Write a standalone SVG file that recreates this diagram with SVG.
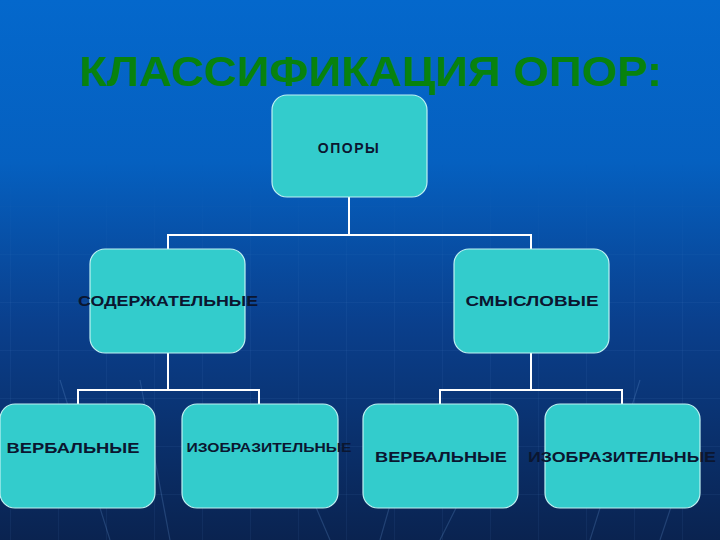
<svg xmlns="http://www.w3.org/2000/svg" width="720" height="540" viewBox="0 0 720 540">
<defs>
<linearGradient id="bg" x1="0" y1="0" x2="0" y2="1">
<stop offset="0" stop-color="#0468CC"/>
<stop offset="0.3" stop-color="#0560C0"/>
<stop offset="0.6" stop-color="#0a3f8c"/>
<stop offset="1" stop-color="#0a2350"/>
</linearGradient>
<pattern id="grid" width="48" height="48" patternUnits="userSpaceOnUse" x="10" y="14">
<path d="M0 0H48M0 0V48" stroke="#5a8ad0" stroke-opacity="0.18" stroke-width="1" fill="none"/>
</pattern>
<linearGradient id="fade" x1="0" y1="0" x2="0" y2="1">
<stop offset="0" stop-color="#fff" stop-opacity="0"/>
<stop offset="0.3" stop-color="#fff" stop-opacity="0"/>
<stop offset="0.55" stop-color="#fff" stop-opacity="1"/>
<stop offset="1" stop-color="#fff" stop-opacity="1"/>
</linearGradient>
<mask id="m"><rect width="720" height="540" fill="url(#fade)"/></mask>
</defs>
<style>
.node{fill:#33CCCC;stroke:#bff2f2;stroke-width:1.2}
.lbl{font-family:"Liberation Sans",Arial,sans-serif;font-weight:bold;fill:#0b1630;text-anchor:middle}
.con{stroke:#ffffff;stroke-width:2;fill:none}
</style>
<rect width="720" height="540" fill="url(#bg)"/>
<rect width="720" height="540" fill="url(#grid)" mask="url(#m)"/>
<g stroke="#6a9ad8" stroke-opacity="0.25" stroke-width="1.2" fill="none" mask="url(#m)">
<path d="M60 380 L110 540"/>
<path d="M140 380 L170 540"/>
<path d="M300 470 L330 540"/>
<path d="M400 470 L380 540"/>
<path d="M470 480 L440 540"/>
<path d="M640 380 L590 540"/>
<path d="M700 420 L660 540"/>
</g>
<text x="371" y="86" font-family="'Liberation Sans',Arial,sans-serif" font-weight="bold" font-size="43" fill="#08820e" text-anchor="middle" textLength="583" lengthAdjust="spacingAndGlyphs">КЛАССИФИКАЦИЯ ОПОР:</text>
<g id="connectors" class="con">
<path d="M349 197V235M168 249V235H531V249"/>
<path d="M168 353V390M78 404V390H259V404"/>
<path d="M531 353V390M440 404V390H622V404"/>
</g>
<g id="n-opory">
<rect class="node" x="272" y="95" width="155" height="102" rx="15"/>
<text class="lbl" x="349" y="153" font-size="14" letter-spacing="1.5">ОПОРЫ</text>
</g>
<g id="n-soderzh">
<rect class="node" x="90" y="249" width="155" height="104" rx="15"/>
<text class="lbl" x="168" y="306" font-size="14" textLength="180" lengthAdjust="spacingAndGlyphs">СОДЕРЖАТЕЛЬНЫЕ</text>
</g>
<g id="n-smysl">
<rect class="node" x="454" y="249" width="155" height="104" rx="15"/>
<text class="lbl" x="532" y="306" font-size="14" textLength="133" lengthAdjust="spacingAndGlyphs">СМЫСЛОВЫЕ</text>
</g>
<g id="n-verb1">
<rect class="node" x="0" y="404" width="155" height="104" rx="15"/>
<text class="lbl" x="73" y="453" font-size="14" textLength="133" lengthAdjust="spacingAndGlyphs">ВЕРБАЛЬНЫЕ</text>
</g>
<g id="n-izo1">
<rect class="node" x="182" y="404" width="156" height="104" rx="15"/>
<text class="lbl" x="269" y="452" font-size="12" textLength="165" lengthAdjust="spacingAndGlyphs">ИЗОБРАЗИТЕЛЬНЫЕ</text>
</g>
<g id="n-verb2">
<rect class="node" x="363" y="404" width="155" height="104" rx="15"/>
<text class="lbl" x="441" y="462" font-size="14" textLength="132" lengthAdjust="spacingAndGlyphs">ВЕРБАЛЬНЫЕ</text>
</g>
<g id="n-izo2">
<rect class="node" x="545" y="404" width="155" height="104" rx="15"/>
<text class="lbl" x="622" y="462" font-size="14" textLength="188" lengthAdjust="spacingAndGlyphs">ИЗОБРАЗИТЕЛЬНЫЕ</text>
</g>
</svg>
